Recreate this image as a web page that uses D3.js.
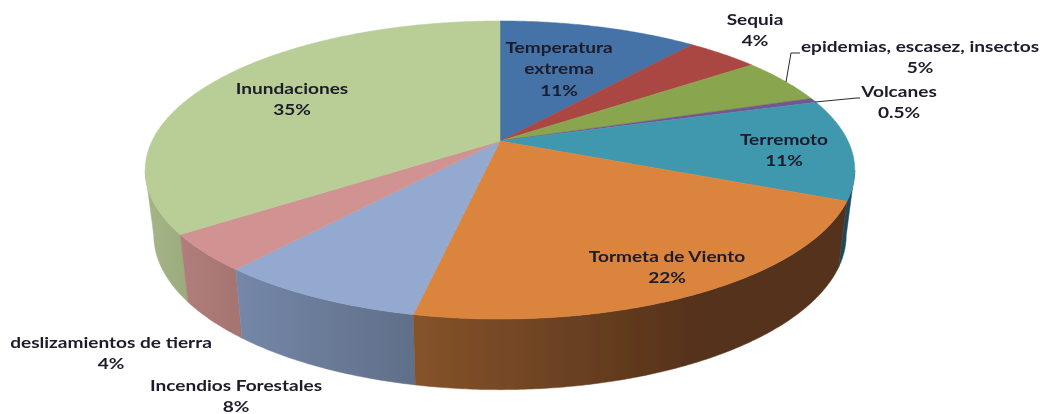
<!DOCTYPE html>
<html><head><meta charset="utf-8">
<script src="https://cdn.jsdelivr.net/npm/d3@7"></script>
<style>html,body{margin:0;background:#fff;overflow:hidden}svg{display:block}
text{font-family:Lato,"Open Sans",sans-serif;font-weight:700;font-size:15.5px;fill:#1b1b2b;text-anchor:middle}</style>
</head><body><svg id="c" width="1042" height="414"></svg>
<script>
const categories = ["Temperatura extrema","Sequia","epidemias, escasez, insectos","Volcanes","Terremoto","Tormeta de Viento","Incendios Forestales","deslizamientos de tierra","Inundaciones"];
const values = [11,4,5,0.5,11,22,8,4,35];
const topColors = ["#4572A7","#AA4643","#89A54E","#71588F","#4198AF","#DB843D","#93A9CF","#D19392","#B9CD96"];
const sideLeft  = ["#2e4c70","#722f2d","#5c6e34","#4c3b60","#1c4a60","#85532a","#7587a8","#b07e7c","#a6b587"];
const sideRight = ["#2e4c70","#722f2d","#5c6e34","#4c3b60","#1c4a60","#55321a","#5f6f89","#a5736f","#9aab7c"];
const sideReach = [1,1,1,1,1,0.65,1,1,1];
const labelLines = [["Temperatura","extrema"],["Sequia"],["epidemias, escasez, insectos"],["Volcanes"],["Terremoto"],["Tormeta de Viento"],["Incendios Forestales"],["deslizamientos de tierra"],["Inundaciones"]];
const labelCentres = [[559,48],[755,20],[920,47],[899,92],[784,140],[667,257],[236,386],[111,343],[292,89]];
const leaders = [[[786,82],[791,53],[800,53]],[[815,102],[857,98],[860,98]]];
const textStretch = 1.23;

const svg = d3.select("#c");
const defs = svg.append("defs");
defs.append("filter").attr("id","soft").attr("x","-5%").attr("y","-5%").attr("width","110%").attr("height","110%")
  .append("feGaussianBlur").attr("stdDeviation",0.4);
const root = svg.append("g").attr("filter","url(#soft)");

// perspective disc model
const k = 0.1946;
const rim = {cx:500, cy:141, a:348, b:143.4};
const base = {cx:500, cy:205, a:339.6, b:148.7};
const project = (d, t) => {
  const u = Math.sin(t), v = -Math.cos(t), w = 1 - k*v;
  return [d.cx + d.a*u/w, d.cy + d.b*v/w];
};
const pie = d3.pie().sort(null).value(d=>d)(values);
const STEP = Math.PI/360;
const thetas = (a,b) => { const n=Math.max(2,Math.ceil((b-a)/STEP)); return d3.range(n+1).map(i=>a+(b-a)*i/n); };
const line = d3.line();

// sides: only the part of each slice in front of the silhouette, painted back to front, shaded along x
const bands = pie.map((s,i)=>{
  const ts = thetas(s.startAngle,s.endAngle).filter(t=>-Math.cos(t)>=k);
  const xs = ts.flatMap(t=>[project(rim,t)[0],project(base,t)[0]]);
  const [x0,x1] = d3.extent(xs);
  return {i,ts,x0,x1,depth:d3.max(ts,t=>-Math.cos(t))};
}).filter(d=>d.ts.length>1).sort((a,b)=>a.depth-b.depth);
const grads = defs.selectAll("linearGradient").data(bands).join("linearGradient")
  .attr("id",d=>"side"+d.i).attr("gradientUnits","userSpaceOnUse")
  .attr("x1",d=>d.x0).attr("x2",d=>d.x1).attr("y1",0).attr("y2",0);
grads.append("stop").attr("offset",0).attr("stop-color",d=>sideLeft[d.i]);
grads.append("stop").attr("offset",d=>sideReach[d.i]).attr("stop-color",d=>sideRight[d.i]);
root.append("g").selectAll("path").data(bands).join("path")
  .attr("d",d=>line([...d.ts.map(t=>project(rim,t)),...d.ts.slice().reverse().map(t=>project(base,t))])+"Z")
  .attr("fill",d=>`url(#side${d.i})`).attr("stroke",d=>`url(#side${d.i})`).attr("stroke-width",0.5);

// top surface
root.append("g").selectAll("path").data(pie).join("path")
  .attr("d",s=>line([[rim.cx,rim.cy],...thetas(s.startAngle,s.endAngle).map(t=>project(rim,t))])+"Z")
  .attr("fill",(s,i)=>topColors[i]).attr("stroke",(s,i)=>topColors[i]).attr("stroke-width",0.5);

// leaders
root.append("g").selectAll("path").data(leaders).join("path")
  .attr("d",d=>line(d)).attr("fill","none").attr("stroke","#2a2a2a").attr("stroke-width",1);

// labels
root.append("g").selectAll("text").data(categories).join("text")
  .attr("transform",(d,i)=>`translate(${labelCentres[i][0]},${labelCentres[i][1]+5}) scale(${textStretch},1)`)
  .each(function(d,i){
    const t=d3.select(this);
    [...labelLines[i],values[i]+"%"].forEach((l,j)=>{
      t.append("tspan").attr("x",0).attr("dy",j?21.5:0).text(l);
    });
  });
</script></body></html>
